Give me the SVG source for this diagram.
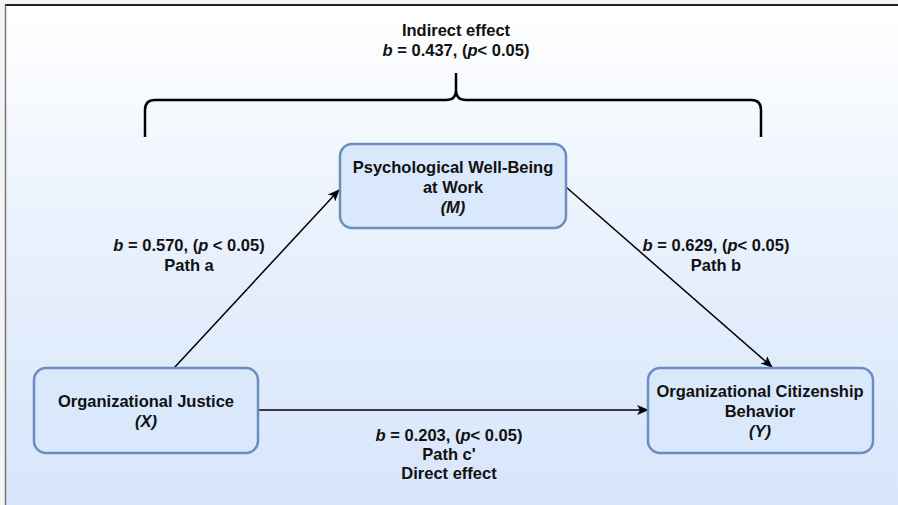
<svg xmlns="http://www.w3.org/2000/svg" width="898" height="505" viewBox="0 0 898 505">
  <defs>
    <linearGradient id="bg" x1="0" y1="0" x2="0" y2="1">
      <stop offset="0" stop-color="#ffffff"/>
      <stop offset="0.6" stop-color="#e3edfc"/>
      <stop offset="1" stop-color="#d8e6fb"/>
    </linearGradient>
    <marker id="arr" viewBox="0 0 12 10" refX="11" refY="5" markerWidth="12" markerHeight="10" markerUnits="userSpaceOnUse" orient="auto">
      <path d="M0,0 L12,5 L0,10 L3,5 Z" fill="#000"/>
    </marker>
    <style>
      .node rect { fill: #dae8fc; stroke: #6c8ebf; stroke-width: 2.5; }
      text { font-family: "Liberation Sans", Arial, sans-serif; font-size: 16.5px; font-weight: bold; fill: #111; text-anchor: middle; }
      .it { font-style: italic; }
      .edge { stroke: #000; stroke-width: 1.5; fill: none; marker-end: url(#arr); }
      .brace { stroke: #000; stroke-width: 2.5; fill: none; }
    </style>
  </defs>

  <rect x="0" y="0" width="898" height="505" fill="#f4f4f4"/>
  <rect x="5" y="5" width="893" height="500" fill="url(#bg)"/>
  <line x1="5" y1="5" x2="898" y2="5" stroke="#222" stroke-width="2"/>
  <line x1="5.5" y1="5" x2="5.5" y2="505" stroke="#777" stroke-width="1.5"/>

  <g id="indirect">
    <text x="456" y="36">Indirect effect</text>
    <text x="456" y="56"><tspan class="it">b</tspan> = 0.437, (<tspan class="it">p</tspan>&lt; 0.05)</text>
    <path class="brace" d="M145,137 L145,110 Q145,100 155,100 L446,100 Q456,100 456,90 L456,73 M456,90 Q456,100 466,100 L751,100 Q761,100 761,110 L761,137"/>
  </g>

  <g id="connectors">
    <line class="edge" x1="174" y1="368" x2="339" y2="190"/>
    <line class="edge" x1="566" y1="187" x2="772" y2="367"/>
    <line class="edge" x1="258" y1="410" x2="648" y2="410"/>
  </g>

  <g id="label-a">
    <text x="189" y="251"><tspan class="it">b</tspan> = 0.570, (<tspan class="it">p</tspan> &lt; 0.05)</text>
    <text x="189" y="271">Path a</text>
  </g>
  <g id="label-b">
    <text x="716" y="251"><tspan class="it">b</tspan> = 0.629, (<tspan class="it">p</tspan>&lt; 0.05)</text>
    <text x="716" y="271">Path b</text>
  </g>
  <g id="label-c">
    <text x="449" y="441"><tspan class="it">b</tspan> = 0.203, (<tspan class="it">p</tspan>&lt; 0.05)</text>
    <text x="449" y="460">Path c'</text>
    <text x="449" y="479">Direct effect</text>
  </g>

  <g id="node-m" class="node">
    <rect x="340" y="144" width="226" height="84" rx="12"/>
    <text x="453" y="173">Psychological Well-Being</text>
    <text x="453" y="193">at Work</text>
    <text x="453" y="213" class="it">(M)</text>
  </g>
  <g id="node-x" class="node">
    <rect x="34" y="368" width="224" height="85" rx="12"/>
    <text x="146" y="407">Organizational Justice</text>
    <text x="146" y="427" class="it">(X)</text>
  </g>
  <g id="node-y" class="node">
    <rect x="648" y="368" width="225" height="85" rx="12"/>
    <text x="760" y="397">Organizational Citizenship</text>
    <text x="760" y="417">Behavior</text>
    <text x="760" y="437" class="it">(Y)</text>
  </g>
</svg>
